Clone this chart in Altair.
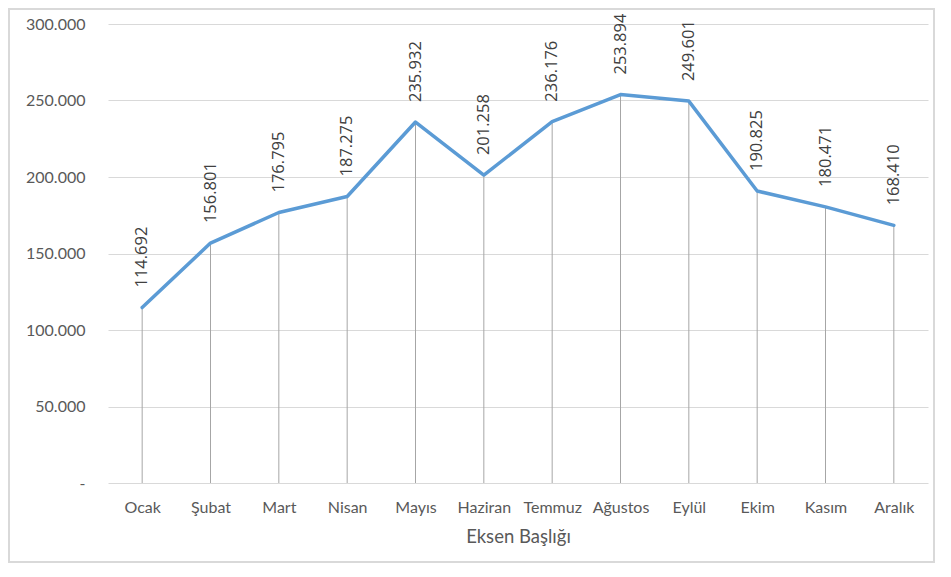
import altair as alt
import pandas as pd

months = ["Ocak", "Şubat", "Mart", "Nisan", "Mayıs", "Haziran", "Temmuz",
          "Ağustos", "Eylül", "Ekim", "Kasım", "Aralık"]
values = [114692, 156801, 176795, 187275, 235932, 201258, 236176,
          253894, 249601, 190825, 180471, 168410]
y_ticks = [0, 50000, 100000, 150000, 200000, 250000, 300000]
x_title = "Eksen Başlığı"

df = pd.DataFrame({"ay": months, "deger": values})
df["etiket"] = [f"{v:,}".replace(",", ".") for v in values]

FONT = "Lato"

x_enc = alt.X("ay:N", sort=months,
              scale=alt.Scale(type="point", padding=0.5),
              axis=alt.Axis(title=x_title, labelAngle=0, ticks=False, domain=False,
                            grid=False, labelPadding=16, labelFontSize=16,
                            labelColor="#595959", titleFontSize=18.5,
                            titleColor="#595959", titlePadding=12,
                            titleFontWeight="normal", labelFont=FONT,
                            titleFont=FONT))
y_enc = alt.Y("deger:Q",
              scale=alt.Scale(domain=[0, 300000], nice=False),
              axis=alt.Axis(title=None, values=y_ticks, ticks=False, domain=False,
                            grid=True, gridColor="#d9d9d9", labelPadding=23,
                            labelFontSize=16, labelColor="#595959", labelFont=FONT,
                            labelExpr="datum.value == 0 ? '-' : replace(format(datum.value, ','), /,/g, '.')"))

base = alt.Chart(df)

border = base.mark_rect(fill=None, stroke="#d9d9d9", strokeWidth=2).encode(
    x=alt.value(-99), x2=alt.value(826), y=alt.value(-15), y2=alt.value(538)
).transform_filter("datum.ay == 'Ocak'")

rules = base.mark_rule(color="#a6a6a6", strokeWidth=1).encode(
    x=x_enc, y=y_enc, y2=alt.datum(0)
)

line = base.mark_line(color="#5b9bd5", strokeWidth=3.5, strokeJoin="round",
                      strokeCap="round").encode(x=x_enc, y=y_enc)

labels = base.mark_text(angle=270, align="left", baseline="middle", dx=20,
                        fontSize=16.5, color="#404040", font="Open Sans").encode(
    x=x_enc, y=y_enc, text="etiket:N"
)

chart = alt.layer(rules, line, labels, border).properties(
    width=820, height=459,
    autosize=alt.AutoSizeParams(type="none"),
    padding={"left": 100, "top": 16, "right": 15, "bottom": 80},
    background="white",
).configure_view(stroke=None)

chart.save("out.html", embed_options={"renderer": "svg", "actions": False})
